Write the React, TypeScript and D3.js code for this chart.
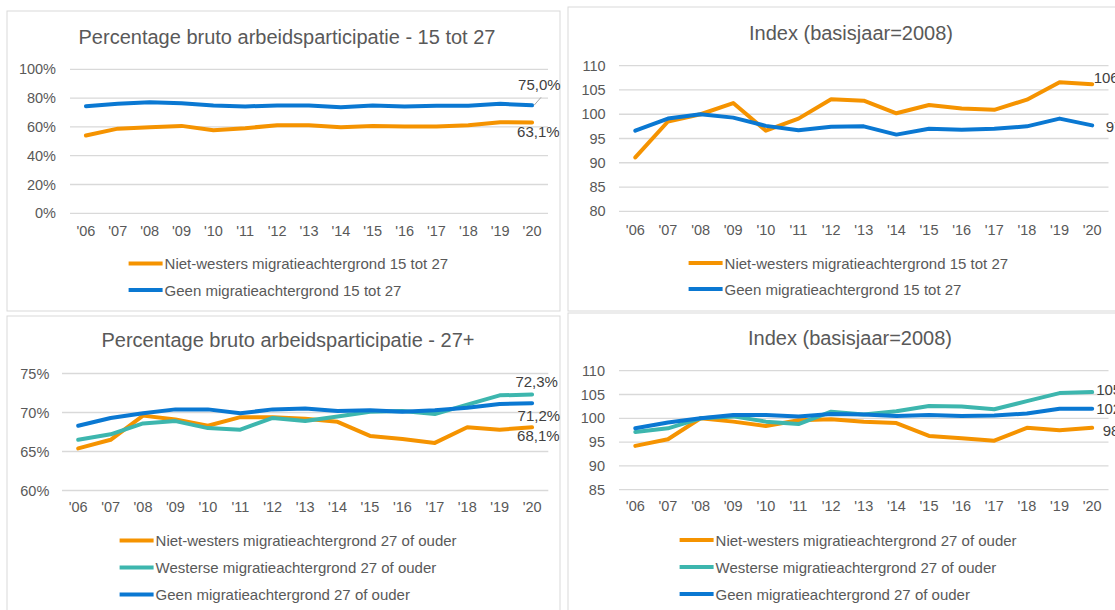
import React from 'react';
import * as d3 from 'd3';

// jaren op de x-as
const years = ["'06", "'07", "'08", "'09", "'10", "'11", "'12", "'13", "'14", "'15", "'16", "'17", "'18", "'19", "'20"];

// 15 tot 27 - percentage
const youthNietWesters = [54.0, 58.8, 59.8, 60.7, 57.7, 59.1, 61.2, 61.2, 59.8, 60.7, 60.2, 60.2, 61.2, 63.3, 63.1];
const youthGeen = [74.4, 76.0, 77.2, 76.5, 74.9, 74.2, 74.9, 74.9, 73.7, 74.9, 74.2, 74.7, 74.7, 76.0, 75.0];

// 15 tot 27 - index
const youthIdxNietWesters = [91.1, 98.5, 100.0, 102.3, 96.6, 99.1, 103.1, 102.8, 100.2, 101.9, 101.2, 100.9, 103.0, 106.6, 106.2];
const youthIdxGeen = [96.6, 99.1, 100.0, 99.3, 97.6, 96.7, 97.4, 97.5, 95.8, 97.0, 96.8, 97.0, 97.5, 99.1, 97.7];

// 27 of ouder - percentage
const adultNietWesters = [65.4, 66.5, 69.6, 69.1, 68.3, 69.4, 69.4, 69.2, 68.8, 67.0, 66.6, 66.1, 68.1, 67.8, 68.1];
const adultWesterse = [66.5, 67.2, 68.6, 68.9, 68.0, 67.8, 69.3, 68.9, 69.5, 70.1, 70.2, 69.8, 71.0, 72.2, 72.3];
const adultGeen = [68.3, 69.3, 69.9, 70.4, 70.4, 69.9, 70.4, 70.5, 70.2, 70.3, 70.1, 70.3, 70.6, 71.1, 71.2];

// 27 of ouder - index
const adultIdxNietWesters = [94.2, 95.6, 100.0, 99.3, 98.4, 99.6, 99.8, 99.3, 99.0, 96.3, 95.8, 95.3, 98.0, 97.5, 98.0];
const adultIdxWesterse = [97.1, 97.9, 100.0, 100.4, 99.3, 98.8, 101.4, 100.8, 101.5, 102.6, 102.5, 101.9, 103.6, 105.3, 105.5];
const adultIdxGeen = [97.9, 99.1, 100.0, 100.7, 100.7, 100.4, 100.9, 100.8, 100.5, 100.7, 100.5, 100.6, 101.0, 102.0, 102.0];

// y-as ticks
const pctTicksYouth = [0, 20, 40, 60, 80, 100];
const idxTicksYouth = [80, 85, 90, 95, 100, 105, 110];
const pctTicksAdult = [60, 65, 70, 75];
const idxTicksAdult = [85, 90, 95, 100, 105, 110];

const ORANGE = '#f59300';
const TEAL = '#3db6ae';
const BLUE = '#0a78d2';
const FONT = '"Liberation Sans", Arial, sans-serif';

const nl = d3.formatLocale({ decimal: ',', thousands: '.', grouping: [3], currency: ['€', ''] });
const fmt1 = nl.format('.1f');

interface Series {
  name: string;
  color: string;
  values: number[];
  pct?: boolean;
  ldx: number;
  ldy: number;
  leader?: boolean;
}

interface PanelProps {
  box: [number, number, number, number];
  title: string;
  titleX: number;
  titleY: number;
  xRange: [number, number];
  yRange: [number, number];
  domain: [number, number];
  ticks: number[];
  tickFmt: (v: number) => string;
  tickRight: number;
  xLabelY: number;
  series: Series[];
  legendX: number;
  legendY: number;
  legendStep: number;
}

function Panel(p: PanelProps) {
  const x = d3.scalePoint<string>().domain(years).range(p.xRange).padding(0.5);
  const y = d3.scaleLinear().domain(p.domain).range(p.yRange);
  const line = d3.line<number>()
    .x((d, i) => x(years[i]) as number)
    .y(d => y(d));
  const last = years.length - 1;
  const lx = x(years[last]) as number;

  return (
    <g>
      <rect x={p.box[0]} y={p.box[1]} width={p.box[2]} height={p.box[3]}
        fill="#fff" stroke="#d9d9d9" strokeWidth={1} />
      <text x={p.titleX} y={p.titleY} textAnchor="middle" fontSize={20} fill="#595959">{p.title}</text>

      {/* rasterlijnen + y-as */}
      {p.ticks.map(t => (
        <g key={t}>
          <line x1={p.xRange[0]} x2={p.xRange[1]} y1={y(t)} y2={y(t)} stroke="#d9d9d9" strokeWidth={1.3} />
          <text x={p.tickRight} y={y(t) + 5} textAnchor="end" fontSize={14.5} fill="#595959">{p.tickFmt(t)}</text>
        </g>
      ))}

      {/* x-as */}
      {years.map(yr => (
        <text key={yr} x={x(yr)} y={p.xLabelY} textAnchor="middle" fontSize={14.5} fill="#595959">{yr}</text>
      ))}

      {/* lijnen */}
      {p.series.map(s => (
        <path key={s.name} d={line(s.values) || ''} fill="none" stroke={s.color}
          strokeWidth={4} strokeLinejoin="round" strokeLinecap="round" />
      ))}

      {/* datalabels */}
      {p.series.map(s => {
        const v = s.values[last];
        const ly = y(v);
        return (
          <g key={s.name + '-lbl'}>
            {s.leader && (
              <line x1={lx + 2} y1={ly} x2={lx + 9} y2={ly - 8} stroke="#a6a6a6" strokeWidth={1} />
            )}
            <text x={lx + s.ldx} y={ly + s.ldy} fontSize={15} fill="#404040">
              {fmt1(v) + (s.pct ? '%' : '')}
            </text>
          </g>
        );
      })}

      {/* legenda */}
      {p.series.map((s, i) => {
        const ly = p.legendY + i * p.legendStep;
        return (
          <g key={s.name + '-leg'}>
            <line x1={p.legendX} x2={p.legendX + 34} y1={ly} y2={ly} stroke={s.color} strokeWidth={4} />
            <text x={p.legendX + 36} y={ly + 5.5} fontSize={15} fill="#595959">{s.name}</text>
          </g>
        );
      })}
    </g>
  );
}

const pctFmt = (v: number) => `${v}%`;
const idxFmt = (v: number) => `${v}`;

export default function App() {
  return (
    <div style={{ position: 'absolute', left: 0, top: 0 }}>
      <svg width={1115} height={610} fontFamily={FONT} style={{ display: 'block' }}>
        <rect width={1115} height={610} fill="#fff" />
        <Panel
          box={[7, 11, 553, 300]}
          title="Percentage bruto arbeidsparticipatie - 15 tot 27"
          titleX={287} titleY={43.5}
          xRange={[70, 548]} yRange={[213.3, 69.3]} domain={[0, 100]}
          ticks={pctTicksYouth} tickFmt={pctFmt} tickRight={56} xLabelY={236}
          series={[
            { name: 'Niet-westers migratieachtergrond 15 tot 27', color: ORANGE, values: youthNietWesters, pct: true, ldx: -15, ldy: 14.3 },
            { name: 'Geen migratieachtergrond 15 tot 27', color: BLUE, values: youthGeen, pct: true, ldx: -14, ldy: -15, leader: true },
          ]}
          legendX={128.6} legendY={263.5} legendStep={26.5}
        />
        <Panel
          box={[568, 7, 560, 304]}
          title="Index (basisjaar=2008)"
          titleX={851} titleY={40}
          xRange={[619, 1108.5]} yRange={[211.3, 65.7]} domain={[80, 110]}
          ticks={idxTicksYouth} tickFmt={idxFmt} tickRight={605.7} xLabelY={235}
          series={[
            { name: 'Niet-westers migratieachtergrond 15 tot 27', color: ORANGE, values: youthIdxNietWesters, ldx: 1.5, ldy: -1 },
            { name: 'Geen migratieachtergrond 15 tot 27', color: BLUE, values: youthIdxGeen, ldx: 13.5, ldy: 6.5 },
          ]}
          legendX={688.6} legendY={263} legendStep={26}
        />
        <Panel
          box={[7, 316, 553, 300]}
          title="Percentage bruto arbeidsparticipatie - 27+"
          titleX={288} titleY={347.3}
          xRange={[62, 548.3]} yRange={[490.5, 373.5]} domain={[60, 75]}
          ticks={pctTicksAdult} tickFmt={pctFmt} tickRight={49.3} xLabelY={512}
          series={[
            { name: 'Niet-westers migratieachtergrond 27 of ouder', color: ORANGE, values: adultNietWesters, pct: true, ldx: -15, ldy: 13.7 },
            { name: 'Westerse migratieachtergrond 27 of ouder', color: TEAL, values: adultWesterse, pct: true, ldx: -16.7, ldy: -8 },
            { name: 'Geen migratieachtergrond 27 of ouder', color: BLUE, values: adultGeen, pct: true, ldx: -14.5, ldy: 18 },
          ]}
          legendX={119.6} legendY={540.5} legendStep={27}
        />
        <Panel
          box={[568, 313, 560, 300]}
          title="Index (basisjaar=2008)"
          titleX={850} titleY={345}
          xRange={[619, 1108.5]} yRange={[489.7, 370.7]} domain={[85, 110]}
          ticks={idxTicksAdult} tickFmt={idxFmt} tickRight={605} xLabelY={511}
          series={[
            { name: 'Niet-westers migratieachtergrond 27 of ouder', color: ORANGE, values: adultIdxNietWesters, ldx: 10.5, ldy: 8 },
            { name: 'Westerse migratieachtergrond 27 of ouder', color: TEAL, values: adultIdxWesterse, ldx: 4, ldy: 3 },
            { name: 'Geen migratieachtergrond 27 of ouder', color: BLUE, values: adultIdxGeen, ldx: 4, ldy: 5 },
          ]}
          legendX={679.6} legendY={540} legendStep={27}
        />
      </svg>
    </div>
  );
}
